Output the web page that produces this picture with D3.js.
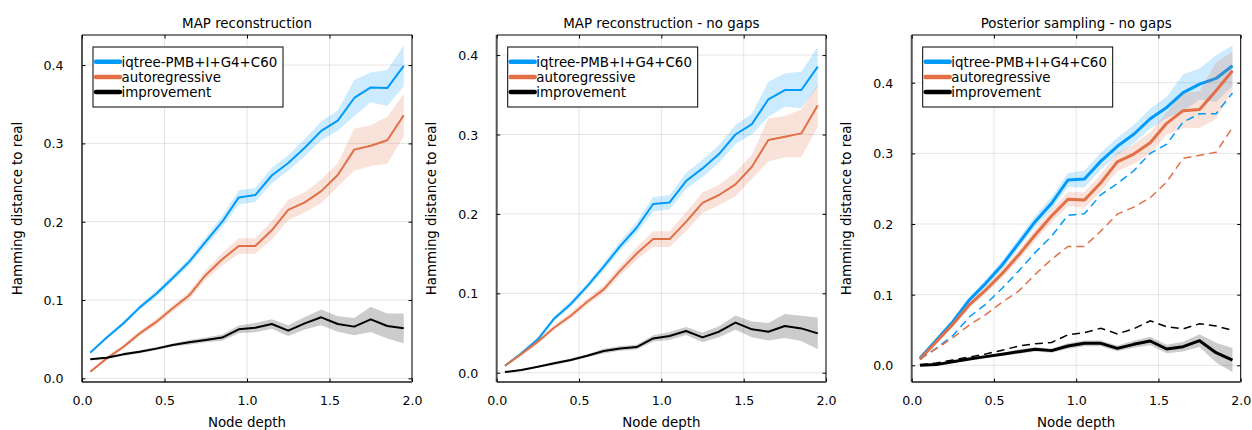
<!DOCTYPE html>
<html>
<head>
<meta charset="utf-8">
<script src="https://cdn.jsdelivr.net/npm/d3@7"></script>
<style>
  html, body { margin: 0; padding: 0; background: #fff; }
  svg { display: block; font-family: "DejaVu Sans", sans-serif; }
</style>
</head>
<body>
<svg id="chart" width="1252" height="430"></svg>
<script>
// ---------------- data ----------------
const nodeDepth = [0.05, 0.15, 0.25, 0.35, 0.45, 0.55, 0.65, 0.75, 0.85, 0.95,
                   1.05, 1.15, 1.25, 1.35, 1.45, 1.55, 1.65, 1.75, 1.85, 1.95];

const seriesNames = ["iqtree-PMB+I+G4+C60", "autoregressive", "improvement"];
const panelTitles = ["MAP reconstruction", "MAP reconstruction - no gaps", "Posterior sampling - no gaps"];
const xTicks = [0, 0.5, 1, 1.5, 2];
const yTicks = [0, 0.1, 0.2, 0.3, 0.4];

// Panel 1: MAP reconstruction
const mapIqtree     = [0.0328, 0.052, 0.070, 0.0906, 0.108, 0.128, 0.149, 0.1745, 0.200, 0.231, 0.234, 0.259, 0.275, 0.2945, 0.316, 0.329, 0.358, 0.3715, 0.3706, 0.399];
const mapIqtreeErr  = [0.002, 0.002, 0.003, 0.003, 0.004, 0.004, 0.005, 0.006, 0.007, 0.009, 0.009, 0.010, 0.010, 0.011, 0.012, 0.013, 0.023, 0.019, 0.023, 0.026];
const mapAuto       = [0.0085, 0.0255, 0.040, 0.0574, 0.072, 0.0894, 0.106, 0.132, 0.152, 0.169, 0.169, 0.189, 0.215, 0.2247, 0.239, 0.2596, 0.292, 0.297, 0.304, 0.336];
const mapAutoErr    = [0.001, 0.002, 0.003, 0.003, 0.004, 0.004, 0.005, 0.006, 0.008, 0.010, 0.010, 0.012, 0.013, 0.013, 0.015, 0.015, 0.027, 0.026, 0.030, 0.027];
const mapImpr       = [0.0243, 0.0264, 0.0306, 0.034, 0.0379, 0.0426, 0.046, 0.049, 0.052, 0.0626, 0.0647, 0.0694, 0.0609, 0.0702, 0.0779, 0.0694, 0.066, 0.0753, 0.0668, 0.0638];
const mapImprErr    = [0.001, 0.001, 0.002, 0.002, 0.002, 0.002, 0.003, 0.003, 0.004, 0.005, 0.006, 0.006, 0.007, 0.008, 0.010, 0.010, 0.011, 0.016, 0.016, 0.019];

// Panel 2: MAP reconstruction - no gaps
const ngIqtree      = [0.0088, 0.0244, 0.042, 0.0684, 0.0865, 0.109, 0.1335, 0.1595, 0.1826, 0.2124, 0.2145, 0.2414, 0.2573, 0.2754, 0.300, 0.313, 0.3443, 0.356, 0.356, 0.3854];
const ngIqtreeErr   = [0.001, 0.002, 0.003, 0.003, 0.004, 0.004, 0.005, 0.006, 0.007, 0.009, 0.009, 0.010, 0.011, 0.011, 0.012, 0.013, 0.022, 0.021, 0.023, 0.025];
const ngAuto        = [0.0088, 0.0235, 0.039, 0.057, 0.0718, 0.0894, 0.105, 0.1285, 0.150, 0.1683, 0.1683, 0.190, 0.214, 0.2238, 0.2372, 0.2594, 0.293, 0.2972, 0.3014, 0.3367];
const ngAutoErr     = [0.001, 0.002, 0.003, 0.003, 0.004, 0.004, 0.005, 0.006, 0.008, 0.010, 0.010, 0.012, 0.013, 0.013, 0.015, 0.015, 0.027, 0.026, 0.030, 0.027];
const ngImpr        = [0.0008, 0.0034, 0.0076, 0.0118, 0.016, 0.0214, 0.0273, 0.0306, 0.0323, 0.0432, 0.0462, 0.0525, 0.0445, 0.0516, 0.063, 0.0546, 0.0516, 0.0588, 0.0558, 0.0495];
const ngImprErr     = [0.0005, 0.001, 0.001, 0.002, 0.002, 0.002, 0.003, 0.003, 0.003, 0.004, 0.005, 0.005, 0.006, 0.007, 0.009, 0.010, 0.011, 0.015, 0.016, 0.020];

// Panel 3: Posterior sampling - no gaps (dashed reference = panel 2 MAP values)
const psIqtree      = [0.0099, 0.0358, 0.0618, 0.0925, 0.116, 0.142, 0.1726, 0.2033, 0.2292, 0.2623, 0.2637, 0.289, 0.310, 0.327, 0.349, 0.365, 0.386, 0.398, 0.406, 0.424];
const psIqtreeErr   = [0.001, 0.002, 0.003, 0.004, 0.005, 0.006, 0.007, 0.008, 0.009, 0.010, 0.012, 0.012, 0.012, 0.013, 0.014, 0.015, 0.026, 0.022, 0.033, 0.029];
const psAuto        = [0.0085, 0.0335, 0.058, 0.0854, 0.1066, 0.130, 0.156, 0.1844, 0.2113, 0.235, 0.234, 0.2585, 0.288, 0.299, 0.315, 0.3425, 0.3604, 0.362, 0.3887, 0.417];
const psAutoErr     = [0.001, 0.002, 0.003, 0.004, 0.005, 0.006, 0.007, 0.008, 0.009, 0.010, 0.011, 0.012, 0.013, 0.014, 0.015, 0.016, 0.025, 0.026, 0.040, 0.027];
const psImpr        = [0.0, 0.001, 0.0052, 0.009, 0.0123, 0.0156, 0.0193, 0.0226, 0.0208, 0.0274, 0.0311, 0.0311, 0.024, 0.0297, 0.0344, 0.0231, 0.0264, 0.0349, 0.0179, 0.0075];
const psImprErr     = [0.0005, 0.001, 0.001, 0.002, 0.002, 0.002, 0.003, 0.003, 0.003, 0.004, 0.004, 0.004, 0.004, 0.005, 0.006, 0.006, 0.007, 0.009, 0.014, 0.017];

// ---------------- styling / layout ----------------
const colors = ["#009AFA", "#E26F46", "#000000"];
const FONT = 13.4, TICKFONT = 12.6;
const plotTop = 35, plotBottom = 382;

const panels = [
  { left: 82,    right: 412,    yDomain: [-0.0047, 0.4384], lw: 2,
    series: [[mapIqtree, mapIqtreeErr], [mapAuto, mapAutoErr], [mapImpr, mapImprErr]], dashed: [] },
  { left: 496.7, right: 826,    yDomain: [-0.0117, 0.4253], lw: 2,
    series: [[ngIqtree, ngIqtreeErr], [ngAuto, ngAutoErr], [ngImpr, ngImprErr]], dashed: [] },
  { left: 911.7, right: 1240.7, yDomain: [-0.0236, 0.4675], lw: 3,
    series: [[psIqtree, psIqtreeErr], [psAuto, psAutoErr], [psImpr, psImprErr]],
    dashed: [ngIqtree, ngAuto, ngImpr] }
];

const svg = d3.select("#chart");

panels.forEach((p, pi) => {
  const x = d3.scaleLinear().domain([0, 2]).range([p.left, p.right]);
  const y = d3.scaleLinear().domain(p.yDomain).range([plotBottom, plotTop]);
  const g = svg.append("g");

  const clipId = "clip" + pi;
  svg.append("clipPath").attr("id", clipId)
    .append("rect").attr("x", p.left).attr("y", plotTop)
    .attr("width", p.right - p.left).attr("height", plotBottom - plotTop);

  // grid
  g.selectAll(".vg").data(xTicks).enter().append("line")
    .attr("x1", d => x(d)).attr("x2", d => x(d)).attr("y1", plotTop).attr("y2", plotBottom)
    .attr("stroke", "rgba(0,0,0,0.1)").attr("stroke-width", 1);
  g.selectAll(".hg").data(yTicks).enter().append("line")
    .attr("y1", d => y(d)).attr("y2", d => y(d)).attr("x1", p.left).attr("x2", p.right)
    .attr("stroke", "rgba(0,0,0,0.1)").attr("stroke-width", 1);

  const plot = g.append("g").attr("clip-path", `url(#${clipId})`);

  // ribbons + lines
  p.series.forEach(([vals, errs], si) => {
    const area = d3.area()
      .x((d, i) => x(nodeDepth[i]))
      .y0((d, i) => y(vals[i] - errs[i]))
      .y1((d, i) => y(vals[i] + errs[i]));
    plot.append("path").datum(vals).attr("d", area)
      .attr("fill", colors[si]).attr("fill-opacity", 0.2).attr("stroke", "none");
    const line = d3.line().x((d, i) => x(nodeDepth[i])).y(d => y(d));
    plot.append("path").datum(vals).attr("d", line)
      .attr("fill", "none").attr("stroke", colors[si]).attr("stroke-width", p.lw)
      .attr("stroke-linejoin", "round");
  });

  p.dashed.forEach((vals, si) => {
    const line = d3.line().x((d, i) => x(nodeDepth[i])).y(d => y(d));
    plot.append("path").datum(vals).attr("d", line)
      .attr("fill", "none").attr("stroke", colors[si]).attr("stroke-width", 1.5)
      .attr("stroke-dasharray", "8,5");
  });

  // frame
  g.append("line").attr("x1", p.left).attr("x2", p.right).attr("y1", plotTop).attr("y2", plotTop)
    .attr("stroke", "#000").attr("stroke-width", 1);
  g.append("line").attr("x1", p.right).attr("x2", p.right).attr("y1", plotTop).attr("y2", plotBottom)
    .attr("stroke", "#000").attr("stroke-width", 1);
  g.append("line").attr("x1", p.left).attr("x2", p.right).attr("y1", plotBottom).attr("y2", plotBottom)
    .attr("stroke", "#555").attr("stroke-width", 2);
  g.append("line").attr("x1", p.left).attr("x2", p.left).attr("y1", plotTop).attr("y2", plotBottom)
    .attr("stroke", "#555").attr("stroke-width", 2);

  // axes via d3 axis (inner ticks)
  const tl = 3.5;
  const xAxisB = d3.axisBottom(x).tickValues(xTicks).tickFormat(d3.format(".1f"))
    .tickSizeInner(-tl).tickSizeOuter(0);
  const gxb = g.append("g").attr("transform", `translate(0,${plotBottom})`).call(xAxisB);
  gxb.select(".domain").remove();
  gxb.selectAll("line").attr("stroke", "#000");
  gxb.selectAll("text").attr("font-size", TICKFONT).attr("font-family", "DejaVu Sans")
    .attr("fill", "#000").attr("dy", null).attr("y", 22.5);

  const xAxisT = d3.axisTop(x).tickValues(xTicks).tickFormat("").tickSizeInner(-tl).tickSizeOuter(0);
  const gxt = g.append("g").attr("transform", `translate(0,${plotTop})`).call(xAxisT);
  gxt.select(".domain").remove();
  gxt.selectAll("line").attr("stroke", "#000");

  const yAxisL = d3.axisLeft(y).tickValues(yTicks).tickFormat(d3.format(".1f"))
    .tickSizeInner(-tl).tickSizeOuter(0);
  const gyl = g.append("g").attr("transform", `translate(${p.left},0)`).call(yAxisL);
  gyl.select(".domain").remove();
  gyl.selectAll("line").attr("stroke", "#000");
  gyl.selectAll("text").attr("font-size", TICKFONT).attr("font-family", "DejaVu Sans")
    .attr("fill", "#000").attr("x", -18.5).attr("dy", null)
    .attr("y", 4.6);

  const yAxisR = d3.axisRight(y).tickValues(yTicks).tickFormat("").tickSizeInner(-tl).tickSizeOuter(0);
  const gyr = g.append("g").attr("transform", `translate(${p.right},0)`).call(yAxisR);
  gyr.select(".domain").remove();
  gyr.selectAll("line").attr("stroke", "#000");

  // title
  g.append("text").attr("x", (p.left + p.right) / 2).attr("y", 28.3)
    .attr("text-anchor", "middle").attr("font-size", FONT).attr("fill", "#000")
    .text(panelTitles[pi]);

  // axis labels
  g.append("text").attr("x", (p.left + p.right) / 2).attr("y", 426.5)
    .attr("text-anchor", "middle").attr("font-size", FONT).attr("fill", "#000")
    .text("Node depth");
  g.append("text")
    .attr("transform", `translate(${p.left - 60.5},${(plotTop + plotBottom) / 2}) rotate(-90)`)
    .attr("text-anchor", "middle").attr("font-size", FONT).attr("fill", "#000")
    .text("Hamming distance to real");

  // legend
  const lg = g.append("g").attr("transform", `translate(${p.left + 11},47)`);
  lg.append("rect").attr("x", 0).attr("y", 0).attr("width", 190).attr("height", 60)
    .attr("fill", "#fff").attr("stroke", "#000").attr("stroke-width", 1);
  seriesNames.forEach((name, si) => {
    const ry = 14.7 + si * 15.2;
    lg.append("line").attr("x1", 3).attr("x2", 27).attr("y1", ry).attr("y2", ry)
      .attr("stroke", colors[si]).attr("stroke-width", 4.5).attr("stroke-linecap", "round");
    lg.append("text").attr("x", 28.5).attr("y", ry + 4.8)
      .attr("font-size", FONT).attr("fill", "#000").text(name);
  });
});
</script>
</body>
</html>
